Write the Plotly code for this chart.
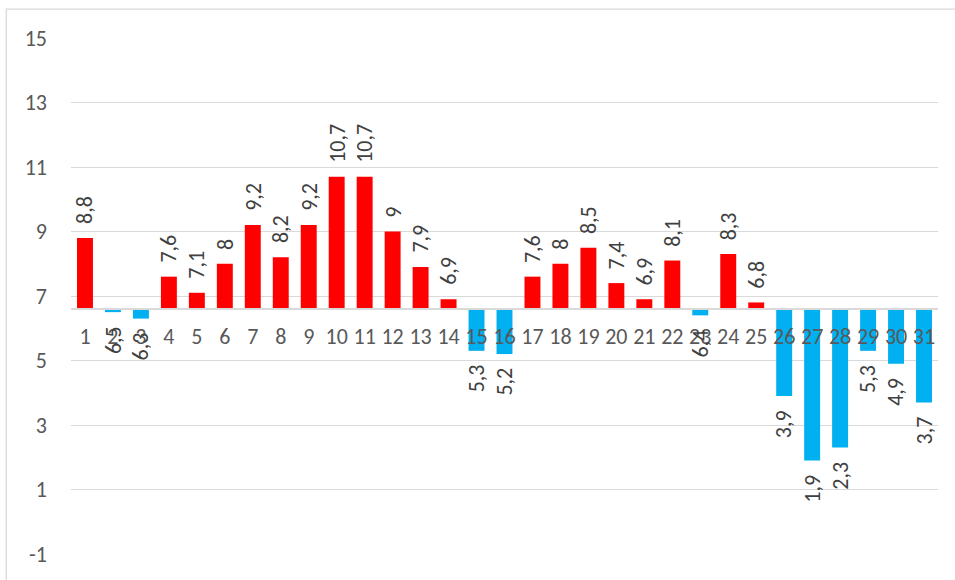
import plotly.graph_objects as go

days = list(range(1, 32))
values = [8.8, 6.5, 6.3, 7.6, 7.1, 8.0, 9.2, 8.2, 9.2, 10.7, 10.7, 9.0, 7.9, 6.9,
          5.3, 5.2, 7.6, 8.0, 8.5, 7.4, 6.9, 8.1, 6.4, 8.3, 6.8, 3.9, 1.9, 2.3,
          5.3, 4.9, 3.7]
base_value = 6.6
y_ticks = [-1, 1, 3, 5, 7, 9, 11, 13, 15]
y_tick_labels = ["-1", "1", "3", "5", "7", "9", "11", "13", "15"]

RED = "#FF0000"
BLUE = "#00B0F0"
FONT = "Carlito, Calibri, Lato, sans-serif"

W, H = 955, 580
ml, mr, mt, mb = 70.7, 17.3, 37.7, 24
pw, ph = W - ml - mr, H - mt - mb
ymin, ymax = -1, 15


def fmt(v):
    s = ("%g" % v)
    return s.replace(".", ",")


colors = [RED if v >= base_value else BLUE for v in values]

fig = go.Figure()
fig.add_trace(go.Bar(
    x=days,
    y=[v - base_value for v in values],
    base=base_value,
    marker=dict(color=colors, line=dict(width=0)),
    width=0.57,
    hoverinfo="skip",
))

annotations = []
for d, v in zip(days, values):
    up = v >= base_value
    annotations.append(dict(
        x=d, y=v, xref="x", yref="y",
        text=fmt(v), showarrow=False, textangle=-90,
        xanchor="center", yanchor="bottom" if up else "top",
        yshift=12 if up else -12,
        font=dict(family=FONT, size=22, color="#404040"),
    ))

fig.update_layout(
    width=W, height=H,
    margin=dict(l=ml, r=mr, t=mt, b=mb, pad=0),
    paper_bgcolor="white", plot_bgcolor="white",
    showlegend=False,
    bargap=0.43,
    annotations=annotations,
    font=dict(family=FONT, size=22, color="#595959"),
    xaxis=dict(
        range=[0.5, 31.5],
        tickmode="array", tickvals=days, ticktext=[str(d) for d in days],
        anchor="free",
        position=(base_value - ymin) / (ymax - ymin),
        showline=True, linecolor="#D9D9D9", linewidth=1.5,
        showgrid=False, zeroline=False,
        ticks="", ticklabelstandoff=8,
        tickfont=dict(family=FONT, size=22, color="#595959"),
    ),
    yaxis=dict(
        range=[ymin, ymax],
        tickmode="array", tickvals=y_ticks, ticktext=y_tick_labels,
        showgrid=True, gridcolor="#D9D9D9", gridwidth=1.3,
        zeroline=False, showline=False, ticks="",
        ticklabelstandoff=23,
        tickfont=dict(family=FONT, size=22, color="#595959"),
    ),
    shapes=[dict(
        type="rect", xref="paper", yref="paper",
        x0=(6 - ml) / pw, x1=1 + (mr + 10) / pw,
        y0=-(mb + 10) / ph, y1=1 + (mt - 8.7) / ph,
        line=dict(color="#D9D9D9", width=1.3), fillcolor="rgba(0,0,0,0)",
        layer="below",
    )],
)

fig.write_html(
    "out.html",
    config={"displayModeBar": False},
    post_script="document.body.style.margin='0';document.body.style.overflow='hidden';",
)
